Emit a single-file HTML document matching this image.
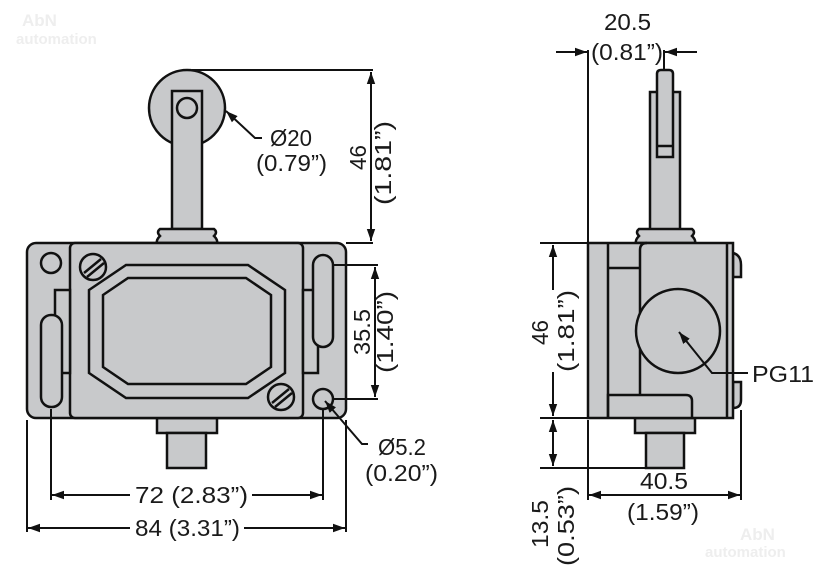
<!DOCTYPE html>
<html><head><meta charset="utf-8"><style>
html,body{margin:0;padding:0;background:#fff;}
svg{display:block;}
text{font-family:"Liberation Sans",sans-serif;font-size:23px;fill:#1a1a1a;}
</style></head><body>
<svg width="835" height="567" viewBox="0 0 835 567" xmlns="http://www.w3.org/2000/svg">
<defs>
<marker id="a" viewBox="0 0 10 10" refX="10" refY="5" markerWidth="12" markerHeight="12" markerUnits="userSpaceOnUse" orient="auto-start-reverse"><path d="M0,1.5 L10,5 L0,8.5 z" fill="#111"/></marker>
</defs>
<text x="22" y="26" style="font-size:17px;font-weight:bold;fill:#eee">AbN</text>
<text x="16" y="44" style="font-size:15px;font-weight:bold;fill:#eee">automation</text>
<text x="740" y="540" style="font-size:17px;font-weight:bold;fill:#eee">AbN</text>
<text x="705" y="557" style="font-size:15px;font-weight:bold;fill:#eee">automation</text>

<g stroke="#111" stroke-width="2.5" fill="#c8c9cb">
<circle cx="187" cy="108" r="38"/>
<rect x="172" y="91" width="30" height="138"/>
<circle cx="187" cy="108" r="10"/>
<path d="M160,229 H214 Q218,232 214,236 Q218,240 217,243 H157 Q156,240 160,236 Q156,232 160,229 z"/>
<rect x="157" y="418" width="60" height="15"/>
<rect x="167" y="433" width="39" height="35"/>
<rect x="27" y="243" width="319" height="175" rx="9"/>
<rect x="70" y="243" width="233" height="175" rx="5"/>
<path d="M126,265 H248 L285,290 V373 L248,398 H126 L89,373 V290 z"/>
<path d="M128,278 H246 L271,295 V367 L246,384 H128 L103,367 V295 z"/>
<circle cx="93" cy="267" r="13"/>
<path d="M84,273 L101,259 M87,277 L104,263" fill="none"/>
<circle cx="281" cy="397" r="13"/>
<path d="M272,403 L289,389 M275,407 L292,393" fill="none"/>
<circle cx="51" cy="263" r="10"/>
<rect x="55" y="290" width="15" height="83"/>
<rect x="41" y="315" width="21" height="92" rx="10"/>
<rect x="303" y="290" width="15" height="83"/>
<rect x="313" y="255" width="20" height="92" rx="10"/>
<circle cx="323" cy="399" r="10"/>

<path d="M650,243 V92 H680 V243"/>
<path d="M657,157 V74 Q657,70 661,70 H669 Q673,70 673,74 V157 z"/>
<line x1="657" y1="146" x2="673" y2="146"/>
<path d="M639,229 H692 Q696,232 692,236 Q696,240 695,243 H636 Q635,240 639,236 Q635,232 639,229 z"/>
<rect x="635" y="418" width="60" height="15"/>
<rect x="646" y="433" width="38" height="35"/>
<path d="M733,253 Q741,255 741,265 V277 H733 z"/>
<path d="M733,382 H741 V400 Q741,408 733,408 z"/>
<rect x="588" y="243" width="145" height="175"/>
<line x1="608" y1="243" x2="608" y2="418"/>
<line x1="727" y1="243" x2="727" y2="418"/>
<line x1="608" y1="268" x2="640" y2="268"/>
<path d="M640,395 V250 Q640,243 647,243" fill="none"/>
<path d="M608,418 V395 H686 Q692,395 692,401 V418" fill="none"/>
<circle cx="678" cy="331" r="42"/>
</g>

<g stroke="#111" stroke-width="2" fill="none">
<line x1="192" y1="70" x2="373" y2="70"/>
<line x1="346" y1="243" x2="373" y2="243"/>
<line x1="371" y1="72" x2="371" y2="241" marker-start="url(#a)" marker-end="url(#a)"/>
<line x1="333" y1="265" x2="378" y2="265"/>
<line x1="333" y1="399" x2="378" y2="399"/>
<line x1="375" y1="267" x2="375" y2="397" marker-start="url(#a)" marker-end="url(#a)"/>
<line x1="27" y1="420" x2="27" y2="532"/>
<line x1="346" y1="420" x2="346" y2="532"/>
<line x1="51" y1="409" x2="51" y2="500"/>
<line x1="323" y1="409" x2="323" y2="500"/>
<line x1="52" y1="495" x2="322" y2="495" marker-start="url(#a)" marker-end="url(#a)"/>
<line x1="28" y1="528" x2="345" y2="528" marker-start="url(#a)" marker-end="url(#a)"/>
<polyline points="262,138 255,138 226,111" marker-end="url(#a)"/>
<polyline points="368,444 362,444 325,401" marker-end="url(#a)"/>
<line x1="588" y1="50" x2="588" y2="243"/>
<line x1="664" y1="50" x2="664" y2="70"/>
<line x1="556" y1="52" x2="587" y2="52" marker-end="url(#a)"/>
<line x1="697" y1="52" x2="665" y2="52" marker-end="url(#a)"/>
<line x1="540" y1="243" x2="588" y2="243"/>
<line x1="540" y1="418" x2="588" y2="418"/>
<line x1="540" y1="468" x2="646" y2="468"/>
<line x1="553" y1="245" x2="553" y2="416" marker-start="url(#a)" marker-end="url(#a)"/>
<line x1="553" y1="420" x2="553" y2="466" marker-start="url(#a)" marker-end="url(#a)"/>
<line x1="588" y1="420" x2="588" y2="500"/>
<line x1="741" y1="410" x2="741" y2="500"/>
<line x1="589" y1="495" x2="740" y2="495" marker-start="url(#a)" marker-end="url(#a)"/>
<polyline points="748,373 712,373 679,332" marker-end="url(#a)"/>
</g>

<!-- gaps behind text -->
<rect x="130" y="484" width="122" height="22" fill="#fff"/>
<rect x="130" y="517" width="114" height="22" fill="#fff"/>
<rect x="544" y="290" width="18" height="82" fill="#fff"/>

<text x="270" y="146" textLength="42" lengthAdjust="spacingAndGlyphs">Ø20</text>
<text x="256" y="171" textLength="71" lengthAdjust="spacingAndGlyphs">(0.79”)</text>
<text transform="translate(366,170) rotate(-90)" x="0" y="0" textLength="25" lengthAdjust="spacingAndGlyphs">46</text>
<text transform="translate(391,205) rotate(-90)" x="0" y="0" textLength="84" lengthAdjust="spacingAndGlyphs">(1.81”)</text>
<text transform="translate(370,355) rotate(-90)" x="0" y="0" textLength="46" lengthAdjust="spacingAndGlyphs">35.5</text>
<text transform="translate(393,373) rotate(-90)" x="0" y="0" textLength="82" lengthAdjust="spacingAndGlyphs">(1.40”)</text>
<text x="378" y="455" textLength="48" lengthAdjust="spacingAndGlyphs">Ø5.2</text>
<text x="365" y="481" textLength="73" lengthAdjust="spacingAndGlyphs">(0.20”)</text>
<text x="135" y="503" textLength="113" lengthAdjust="spacingAndGlyphs">72 (2.83”)</text>
<text x="135" y="536" textLength="105" lengthAdjust="spacingAndGlyphs">84 (3.31”)</text>
<text x="604" y="30" textLength="47" lengthAdjust="spacingAndGlyphs">20.5</text>
<text x="591" y="60" textLength="72" lengthAdjust="spacingAndGlyphs">(0.81”)</text>
<text transform="translate(548,345) rotate(-90)" x="0" y="0" textLength="25" lengthAdjust="spacingAndGlyphs">46</text>
<text transform="translate(574,372) rotate(-90)" x="0" y="0" textLength="82" lengthAdjust="spacingAndGlyphs">(1.81”)</text>
<text transform="translate(548,548) rotate(-90)" x="0" y="0" textLength="48" lengthAdjust="spacingAndGlyphs">13.5</text>
<text transform="translate(574,566) rotate(-90)" x="0" y="0" textLength="80" lengthAdjust="spacingAndGlyphs">(0.53”)</text>
<text x="640" y="489" textLength="48" lengthAdjust="spacingAndGlyphs">40.5</text>
<text x="627" y="520" textLength="72" lengthAdjust="spacingAndGlyphs">(1.59”)</text>
<text x="752" y="382" textLength="62" lengthAdjust="spacingAndGlyphs">PG11</text>
</svg>
</body></html>
